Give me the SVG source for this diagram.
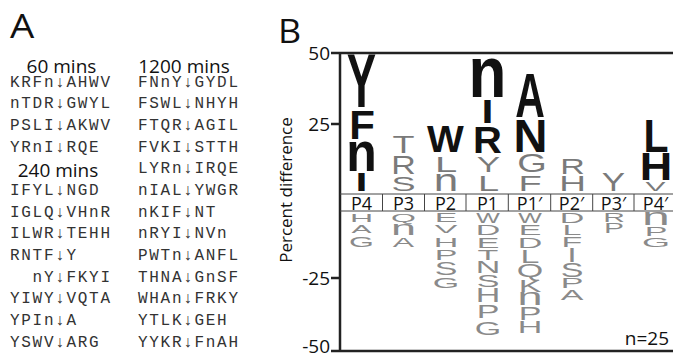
<svg xmlns="http://www.w3.org/2000/svg" width="673" height="358" viewBox="0 0 673 358">
<style>
.seq{font-family:"Liberation Mono","DejaVu Sans Mono",monospace;font-size:16px;letter-spacing:1.7px;fill:#333}
.hd{font-family:"Open Sans","Liberation Sans",sans-serif;font-size:19px;fill:#111;text-anchor:middle}
.big{font-family:"Open Sans","Liberation Sans",sans-serif;font-size:32px;fill:#111}
.tk{font-family:"Open Sans","Liberation Sans",sans-serif;font-size:19px;fill:#111;text-anchor:end}
.pl{font-family:"Open Sans","Noto Sans","DejaVu Sans",sans-serif;font-size:18px;fill:#111;text-anchor:middle}
.ax{font-family:"Open Sans","Liberation Sans",sans-serif;font-size:17px;fill:#111;text-anchor:middle}
.k{font-family:"Liberation Sans",Arial,sans-serif;font-size:100px;font-weight:bold;fill:#111;text-anchor:middle}
.g{font-family:"Liberation Sans",Arial,sans-serif;font-size:100px;fill:#7a7a7a;text-anchor:middle}
.m{font-family:"Liberation Sans",Arial,sans-serif;font-size:100px;fill:#8a8a8a;text-anchor:middle}
.axl{stroke:#222;stroke-width:2.5;fill:none}
.band{stroke:#444;stroke-width:1;fill:none}
</style>
<rect width="673" height="358" fill="#fff"/>
<g id="panelA">
<text class="big" transform="translate(10,38) scale(1.2,1)">A</text>
<text class="hd" x="61.5" y="72.7">60 mins</text>
<text class="hd" x="184" y="72.7">1200 mins</text>
<text class="hd" x="58" y="177">240 mins</text>
<g id="col60-240">
<text class="seq" x="10" y="86.7">KRFn↓AHWV</text>
<text class="seq" x="10" y="108.3">nTDR↓GWYL</text>
<text class="seq" x="10" y="130">PSLI↓AKWV</text>
<text class="seq" x="10" y="151.7">YRnI↓RQE</text>
<text class="seq" x="10" y="195">IFYL↓NGD</text>
<text class="seq" x="10" y="216.7">IGLQ↓VHnR</text>
<text class="seq" x="10" y="238.3">ILWR↓TEHH</text>
<text class="seq" x="10" y="260">RNTF↓Y</text>
<text class="seq" x="32.6" y="281.7">nY↓FKYI</text>
<text class="seq" x="10" y="303.3">YIWY↓VQTA</text>
<text class="seq" x="10" y="325">YPIn↓A</text>
<text class="seq" x="10" y="346.7">YSWV↓ARG</text>
</g>
<g id="col1200">
<text class="seq" x="138" y="86.7">FNnY↓GYDL</text>
<text class="seq" x="138" y="108.3">FSWL↓NHYH</text>
<text class="seq" x="138" y="130">FTQR↓AGIL</text>
<text class="seq" x="138" y="151.7">FVKI↓STTH</text>
<text class="seq" x="138" y="173.3">LYRn↓IRQE</text>
<text class="seq" x="138" y="195">nIAL↓YWGR</text>
<text class="seq" x="138" y="216.7">nKIF↓NT</text>
<text class="seq" x="138" y="238.3">nRYI↓NVn</text>
<text class="seq" x="138" y="260">PWTn↓ANFL</text>
<text class="seq" x="138" y="281.7">THNA↓GnSF</text>
<text class="seq" x="138" y="303.3">WHAn↓FRKY</text>
<text class="seq" x="138" y="325">YTLK↓GEH</text>
<text class="seq" x="138" y="346.7">YYKR↓FnAH</text>
</g>
</g>
<g id="panelB">
<text class="big" transform="translate(278,43) scale(1.12,1)">B</text>
<g id="axes">
<path class="axl" d="M340 53V351M331 53H673M331 351H673M331 124H340M331 278H340"/>
<text class="tk" x="330" y="59.5">50</text>
<text class="tk" x="330" y="130.5">25</text>
<text class="tk" x="330" y="284.5">-25</text>
<text class="tk" x="330" y="352.5">-50</text>
<text class="ax" transform="translate(292,190) rotate(-90)">Percent difference</text>
<text class="tk" x="669" y="345">n=25</text>
</g>
<g id="band">
<path class="band" d="M340 194H673M340 211H673M382.5 194V211M424.5 194V211M466 194V211M508.3 194V211M550.7 194V211M592.7 194V211M634 194V211"/>
<text class="pl" x="361.5" y="209.5">P4</text>
<text class="pl" x="403.5" y="209.5">P3</text>
<text class="pl" x="445.5" y="209.5">P2</text>
<text class="pl" x="487.5" y="209.5">P1</text>
<text class="pl" x="529.5" y="209.5">P1′</text>
<text class="pl" x="571.5" y="209.5">P2′</text>
<text class="pl" x="613.5" y="209.5">P3′</text>
<text class="pl" x="655.5" y="209.5">P4′</text>
</g>
<g id="col-P4">
<text class="k" transform="translate(361.5,107) scale(0.44,0.757)">Y</text>
<text class="k" transform="translate(362,139) scale(0.42,0.414)">F</text>
<text class="k" transform="translate(361.5,171) scale(0.5,0.55)">n</text>
<text class="k" transform="translate(361.5,191) scale(0.43,0.257)">I</text>
<text class="m" transform="translate(361.5,222) scale(0.32,0.114)">H</text>
<text class="m" transform="translate(361.5,233) scale(0.3,0.1)">A</text>
<text class="m" transform="translate(361.5,247) scale(0.32,0.14)">G</text>
</g>
<g id="col-P3">
<text class="g" transform="translate(403.5,153) scale(0.36,0.243)">T</text>
<text class="g" transform="translate(403.5,174) scale(0.34,0.257)">R</text>
<text class="g" transform="translate(403.5,191) scale(0.36,0.21)">S</text>
<text class="m" transform="translate(403.5,221.5) scale(0.32,0.11)">Q</text>
<text class="m" transform="translate(403.5,235) scale(0.45,0.2)">n</text>
<text class="m" transform="translate(403.5,247) scale(0.32,0.129)">A</text>
</g>
<g id="col-P2">
<text class="k" transform="translate(445.5,152) scale(0.39,0.371)">W</text>
<text class="g" transform="translate(446,172) scale(0.4,0.229)">L</text>
<text class="g" transform="translate(446,191) scale(0.44,0.31)">n</text>
<text class="m" transform="translate(446,222) scale(0.34,0.129)">E</text>
<text class="m" transform="translate(446,233) scale(0.34,0.114)">V</text>
<text class="m" transform="translate(446,247) scale(0.34,0.129)">H</text>
<text class="m" transform="translate(446,260) scale(0.34,0.143)">P</text>
<text class="m" transform="translate(446,275) scale(0.34,0.18)">S</text>
<text class="m" transform="translate(446,288) scale(0.34,0.15)">G</text>
</g>
<g id="col-P1">
<text class="k" transform="translate(487.5,97) scale(0.62,0.72)">n</text>
<text class="k" transform="translate(487.5,123) scale(0.43,0.329)">I</text>
<text class="k" transform="translate(487.5,153) scale(0.4,0.371)">R</text>
<text class="g" transform="translate(488.5,172) scale(0.35,0.214)">Y</text>
<text class="g" transform="translate(488.5,191) scale(0.38,0.229)">L</text>
<text class="m" transform="translate(488,223) scale(0.25,0.143)">W</text>
<text class="m" transform="translate(488,235) scale(0.34,0.143)">D</text>
<text class="m" transform="translate(488,248) scale(0.34,0.143)">E</text>
<text class="m" transform="translate(488,260) scale(0.34,0.143)">T</text>
<text class="m" transform="translate(488,273) scale(0.34,0.157)">N</text>
<text class="m" transform="translate(488,287) scale(0.34,0.165)">S</text>
<text class="m" transform="translate(488,302) scale(0.34,0.2)">H</text>
<text class="m" transform="translate(488,318) scale(0.34,0.186)">P</text>
<text class="m" transform="translate(488,335) scale(0.34,0.18)">G</text>
</g>
<g id="col-P1p">
<text class="k" transform="translate(530,117) scale(0.41,0.629)">A</text>
<text class="k" transform="translate(530.5,152) scale(0.47,0.471)">N</text>
<text class="g" transform="translate(532,172) scale(0.38,0.25)">G</text>
<text class="g" transform="translate(530,191) scale(0.38,0.229)">F</text>
<text class="m" transform="translate(530,223) scale(0.25,0.143)">W</text>
<text class="m" transform="translate(530,235) scale(0.34,0.143)">E</text>
<text class="m" transform="translate(530,248) scale(0.34,0.143)">D</text>
<text class="m" transform="translate(530,263) scale(0.34,0.186)">L</text>
<text class="m" transform="translate(530,277) scale(0.34,0.175)">Q</text>
<text class="m" transform="translate(530,292) scale(0.34,0.171)">K</text>
<text class="m" transform="translate(530,305) scale(0.45,0.235)">n</text>
<text class="m" transform="translate(530,320) scale(0.34,0.186)">P</text>
<text class="m" transform="translate(530,333) scale(0.34,0.157)">H</text>
</g>
<g id="col-P2p">
<text class="g" transform="translate(572.5,174) scale(0.34,0.229)">R</text>
<text class="g" transform="translate(572.5,191) scale(0.37,0.229)">H</text>
<text class="m" transform="translate(572,223) scale(0.34,0.143)">D</text>
<text class="m" transform="translate(572,235) scale(0.34,0.143)">L</text>
<text class="m" transform="translate(572,247) scale(0.34,0.143)">F</text>
<text class="m" transform="translate(572,262) scale(0.34,0.2)">I</text>
<text class="m" transform="translate(572,277) scale(0.34,0.195)">S</text>
<text class="m" transform="translate(572,288) scale(0.34,0.143)">P</text>
<text class="m" transform="translate(572,300) scale(0.34,0.143)">A</text>
</g>
<g id="col-P3p">
<text class="g" transform="translate(613.5,191) scale(0.35,0.257)">Y</text>
<text class="m" transform="translate(614,222) scale(0.3,0.129)">R</text>
<text class="m" transform="translate(614,233) scale(0.3,0.143)">P</text>
</g>
<g id="col-P4p">
<text class="k" transform="translate(656,152) scale(0.41,0.457)">L</text>
<text class="k" transform="translate(656,180) scale(0.45,0.386)">H</text>
<text class="g" transform="translate(655.5,191) scale(0.3,0.129)">V</text>
<text class="m" transform="translate(656,225) scale(0.5,0.235)">n</text>
<text class="m" transform="translate(656,236) scale(0.34,0.129)">P</text>
<text class="m" transform="translate(656,247) scale(0.36,0.125)">G</text>
</g>
</g>
</svg>
